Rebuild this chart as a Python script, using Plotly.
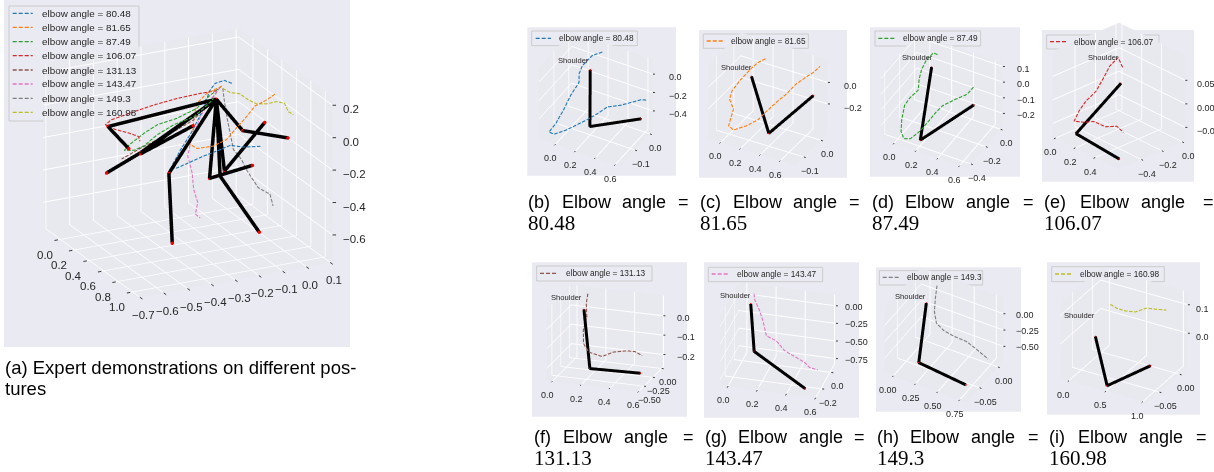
import math
import plotly.graph_objects as go

W, H = 1214, 472
COLORS = ["#1f77b4", "#ff7f0e", "#2ca02c", "#d62728", "#8c564b", "#e377c2", "#7f7f7f", "#bcbd22"]
ANGLES = ["80.48", "81.65", "87.49", "106.07", "131.13", "143.47", "149.3", "160.98"]

# ---- overview (a): arms and trajectories (x, y, z)
ov_arm_b = [(0, -.044, -.078), (.12, -.109, -.51), (.65, -.09, -.263)]
ov_arm_c = [(0, -.044, -.078), (.25, -.086, -.429), (.65, -.038, -.012)]
ov_arm_d = [(0, -.044, -.078), (.2, -.422, -.248), (.6, -.324, .028)]
ov_arm_e = [(0, -.044, -.078), (.1, -.53, -.084), (.45, -.549, -.102)]
ov_arm_f = [(0, -.044, -.078), (.15, -.41, -.263), (.6, -.688, -.166)]
ov_arm_g = [(0, -.044, -.078), (.15, -.289, -.421), (.65, -.427, -.653)]
ov_arm_h = [(0, -.044, -.078), (.2, -.089, -.475), (.8, -.107, -.622)]
ov_arm_i = [(0, -.044, -.078), (.4, -.055, -.139), (.95, -.032, -.012)]

ov_b = [(0, .021, .003), (0, -.011, .029), (0, -.049, .021), (0, -.072, -.018), (0, -.097, -.119), (0, -.146, -.249),
        (0, -.194, -.349), (0, -.239, -.459), (.2, -.269, -.376), (.2, -.214, -.355), (.4, -.219, -.252),
        (.4, -.164, -.236), (.6, -.168, -.135), (.6, -.113, -.16), (.6, -.036, -.176)]
ov_c = [(0, -.021, -.003), (0, -.083, -.031), (0, -.125, -.081), (0, -.139, -.159), (0, -.142, -.26), (0, -.16, -.321),
        (.2, -.186, -.279), (.2, -.117, -.283), (.4, -.122, -.176), (.4, -.081, -.115), (.6, -.099, .024),
        (.6, -.064, .08), (.6, -.015, .104), (.6, .024, .134)]
ov_d = [(0, -.021, -.003), (0, -.076, -.053), (0, -.125, -.112), (0, -.208, -.151), (0, -.292, -.169), (0, -.347, -.206),
        (0, -.41, -.261), (0, -.431, -.29), (.2, -.45, -.219), (.2, -.408, -.202), (.4, -.414, -.068),
        (.4, -.344, -.025), (.6, -.321, .083), (.6, -.265, .14), (.6, -.238, .173)]
ov_e = [(0, -.042, -.026), (0, -.111, -.024), (0, -.208, -.029), (0, -.306, -.043), (0, -.389, -.062), (0, -.486, -.087),
        (0, -.511, -.111), (.2, -.533, -.067), (.2, -.471, -.108), (.4, -.494, -.057), (.4, -.486, -.089)]
ov_f = [(0, -.028, -.009), (0, -.076, -.094), (0, -.139, -.18), (0, -.222, -.229), (0, -.292, -.261), (0, -.361, -.294),
        (0, -.403, -.318), (0, -.442, -.34)]
ov_g = [(0, -.028, -.009), (0, -.069, -.076), (0, -.111, -.167), (0, -.153, -.319), (0, -.164, -.397), (0, -.146, -.504),
        (.2, -.2, -.527), (.2, -.183, -.613), (.4, -.254, -.6), (.4, -.233, -.63)]
ov_h = [(0, -.017, -.018), (0, -.011, -.091), (0, 0, -.196), (.2, -.047, -.22), (.2, -.033, -.326), (.4, -.06, -.315),
        (.4, -.032, -.404), (.6, -.05, -.428), (.6, -.001, -.481), (.6, .012, -.556)]
ov_i = [(0, -.017, -.018), (.2, -.047, .029), (.2, -.006, .01), (.4, -.032, .045), (.4, .003, .011), (.6, -.015, .08),
        (.6, .026, .083), (.8, 0, .145), (.8, .014, .09), (.8, .037, .064)]

# ---- individual postures (b)-(i)
arm_b = [(.05, 0, -.14), (.15, -.069, -.598), (.62, -.039, -.393)]
arm_c = [(.05, .001, -.083), (.35, -.072, -.414), (.62, .031, -.145)]
arm_d = [(.04, -.005, -.036), (.2, -.392, -.25), (.6, -.258, -.003)]
arm_e = [(.02, 0, -.018), (.1, -.517, -.068), (.55, -.53, -.074)]
arm_f = [(.06, 0, -.006), (.17, -.28, -.25), (.6, -.6, -.178)]
arm_g = [(.06, -.007, 0), (.15, -.219, -.402), (.526, -.3, -.734)]
arm_h = [(.02, 0, -.138), (.15, -.052, -.655), (.72, -.061, -.659)]
arm_i = [(0, -.015, -.046), (.5, -.077, -.104), (1.0, -.061, -.017)]

traj_b = [(.172, 0, .098), (.072, 0, .024), (-.028, 0, -.123), (-.062, 0, -.227), (-.062, 0, -.318), (.003, -.1, -.259),
          (-.063, -.1, -.43), (-.073, -.15, -.507), (-.08, -.19, -.529), (-.03, -.19, -.535), (.028, -.15, -.541),
          (.087, -.1, -.536), (.187, -.1, -.444), (.196, -.05, -.476), (.296, -.05, -.365), (.429, -.05, -.297),
          (.563, -.05, -.209), (.562, 0, -.275), (.622, 0, -.259)]
traj_c = [(.192, 0, .124), (.116, 0, .068), (.051, 0, -.005), (-.064, 0, -.15), (.028, -.1, -.068), (.005, -.1, -.152),
          (.044, -.1, -.232), (.018, -.1, -.317), (-.005, -.1, -.402), (.044, -.1, -.426), (.176, -.1, -.349),
          (.29, -.1, -.26), (.285, -.05, -.265), (.4, -.05, -.135), (.411, 0, -.135), (.493, 0, -.031),
          (.592, 0, .062), (.674, 0, .135), (.739, 0, .208)]
traj_d = [(.091, 0, .054), (.052, 0, .055), (-.008, 0, -.001), (-.054, 0, -.074), (-.078, 0, -.144), (-.017, -.1, -.143),
          (-.03, -.2, -.144), (-.075, -.2, -.201), (-.033, -.3, -.225), (-.005, -.35, -.268), (.055, -.4, -.271),
          (.115, -.4, -.257), (.205, -.4, -.185), (.208, -.3, -.182), (.283, -.3, -.101), (.344, -.3, -.045),
          (.392, -.2, -.049), (.498, -.2, .008), (.564, -.2, .076)]
traj_e = [(.037, 0, .018), (-.007, 0, .034), (.01, -.1, .027), (.06, -.2, .02), (.077, -.3, -.001), (.027, -.35, -.022),
          (.01, -.4, -.04), (.01, -.45, -.057), (.11, -.45, -.049), (.21, -.45, -.037), (.327, -.45, -.036),
          (.443, -.45, -.023), (.51, -.45, -.029)]
traj_f = [(.087, 0, .078), (.076, 0, .026), (.08, 0, -.042), (.08, -.1, -.092), (.106, -.2, -.141), (.168, -.3, -.162),
          (.283, -.4, -.156), (.364, -.4, -.126), (.48, -.5, -.091), (.537, -.5, -.09), (.602, -.55, -.097)]
traj_g = [(.08, 0, .143), (.085, 0, .059), (.115, 0, -.072), (.142, 0, -.229), (.165, 0, -.433), (.233, 0, -.485),
          (.29, 0, -.61), (.369, 0, -.683), (.426, 0, -.737), (.46, 0, -.799), (.517, 0, -.82)]
traj_h = [(.141, 0, .189), (.122, 0, -.012), (.111, 0, -.219), (.133, 0, -.385), (.215, 0, -.461), (.327, 0, -.492),
          (.476, 0, -.505), (.588, 0, -.567), (.719, 0, -.654)]
traj_i = [(.12, 0, .057), (.209, 0, .05), (.321, 0, .049), (.454, 0, .055), (.611, 0, .08), (.745, 0, .086), (.879, 0, .093)]

OV_ARMS = [ov_arm_b, ov_arm_c, ov_arm_d, ov_arm_e, ov_arm_f, ov_arm_g, ov_arm_h, ov_arm_i]
OV_TRAJ = [ov_b, ov_c, ov_d, ov_e, ov_f, ov_g, ov_h, ov_i]
ARMS = [arm_b, arm_c, arm_d, arm_e, arm_f, arm_g, arm_h, arm_i]
TRAJ = [traj_b, traj_c, traj_d, traj_e, traj_f, traj_g, traj_h, traj_i]

# ---- layout: panel rect, box edge vectors in px, box centre, ranges, ticks
KAPPA = 0.505
PANELS = [
 dict(rect=(4, 0, 350, 347), X=(95, 69), Y=(197, -36), Hz=167, c=(188, 163), D=320,
      xr=(-.2, 1.1), yr=(-.71, .11), zr=(-.767, .253),
      xt=[0, .2, .4, .6, .8, 1], yt=[-.7, -.6, -.5, -.4, -.3, -.2, -.1, 0, .1], zt=[-.6, -.4, -.2, 0, .2],
      fx=1, fy=1, fz=1, fs=11.5, xo=(-13, 15), yo=(4, 18), zo=(8, 4)),
 dict(rect=(527.3, 27.3, 676, 175.7), X=(82, 28), Y=(33, -36), Hz=72, c=(596, 99), D=180,
      xr=(-.165, .65), yr=(-.2, .02), zr=(-.615, .16), xt=[0, .2, .4, .6], yt=[-.1, 0], zt=[-.4, -.2, 0],
      fx=1, fy=1, fz=1, fs=9, zo=(14, 3), sh=(573.3, 61), leg=(531.7, 31, 637.3, 45.7, 535.7, 551, 558.3, 38.3),
      cap=[527, 561, 621, 677], capy=(202, 223), tag="(b)"),
 dict(rect=(699, 30, 847, 177.7), X=(88, 27), Y=(33, -32), Hz=75, c=(768, 99), D=180,
      xr=(-.125, .75), yr=(-.15, .04), zr=(-.477, .215), xt=[0, .2, .4, .6], yt=[-.1, 0], zt=[-.2, 0],
      fx=1, fy=1, fz=1, fs=9, zo=(14, 4), sh=(736, 67.7), leg=(703.3, 34, 808.3, 48.3, 706.7, 722.7, 730, 41),
      cap=[699, 732, 792, 848], capy=(202, 223), tag="(c)"),
 dict(rect=(870, 27.3, 1020, 176.7), X=(87, 30), Y=(36, -42), Hz=64, c=(942, 101), D=180,
      xr=(-.12, .67), yr=(-.45, .03), zr=(-.285, .12), xt=[0, .2, .4, .6], yt=[-.4, -.2, 0], zt=[-.2, -.1, 0, .1],
      fx=1, fy=1, fz=1, fs=9, zo=(12, 2), sh=(917.3, 57.7), leg=(875, 31, 980.7, 46, 878.3, 894.3, 901.7, 38.3),
      cap=[871, 904, 965, 1022], capy=(202, 223), tag="(d)"),
 dict(rect=(1042, 30, 1194, 181.7), X=(67, 33), Y=(67, -29), Hz=86, c=(1119, 96), D=180,
      xr=(-.03, .64), yr=(-.62, .03), zr=(-.078, .103), xt=[0, .2, .4], yt=[-.4, -.2, 0], zt=[-.05, 0, .05],
      fx=1, fy=1, fz=2, fs=9, zo=(10, 4), sh=(1103.3, 57.7), leg=(1046.7, 35, 1159, 49, 1050, 1066.7, 1073.3, 41.7),
      cap=[1043, 1079, 1140, 1202], capy=(202, 223), tag="(e)"),
 dict(rect=(532, 262.3, 687, 416.7), X=(93, 11), Y=(25, -25), Hz=72, c=(605, 338), D=180,
      xr=(-.04, .6), yr=(-.65, .05), zr=(-.263, .105), xt=[0, .2, .4, .6], yt=[-.5, -.25, 0], zt=[-.2, -.1, 0],
      fx=1, fy=2, fz=1, fs=9, zo=(12, 2), sh=(566.7, 297), leg=(536.7, 266, 652, 281, 540, 556.7, 565, 273.3),
      cap=[533, 562, 623, 682], capy=(437, 458), tag="(f)"),
 dict(rect=(704, 262.3, 859, 417.7), X=(98, 13), Y=(19, -34), Hz=70, c=(778, 340), D=180,
      xr=(-.055, .61), yr=(-.31, .1), zr=(-.83, .154), xt=[0, .2, .4, .6], yt=[-.2, 0], zt=[-.75, -.5, -.25, 0],
      fx=1, fy=1, fz=2, fs=9, zo=(7, 1), sh=(735, 295), leg=(708.3, 267.3, 822.7, 281.7, 711.7, 728.3, 736, 274),
      cap=[704, 737, 798, 853], capy=(437, 458), tag="(g)"),
 dict(rect=(876, 267.3, 1021, 411.7), X=(83, 30), Y=(37, -42), Hz=64, c=(944, 335), D=180,
      xr=(-.1, .83), yr=(-.085, .015), zr=(-.72, .25), xt=[0, .25, .5, .75], yt=[-.05, 0], zt=[-.5, -.25, 0],
      fx=2, fy=2, fz=2, fs=9, zo=(11, 1), sh=(910.7, 296), leg=(879.3, 270.7, 982.7, 285, 882.7, 899.3, 905.7, 277.3),
      cap=[876, 909, 970, 1027], capy=(437, 458), tag="(h)"),
 dict(rect=(1047, 262.3, 1200, 414.7), X=(88, 25), Y=(41, -36), Hz=76, c=(1124, 335), D=180,
      xr=(-.12, 1.06), yr=(-.08, .02), zr=(-.119, .145), xt=[0, .5, 1], yt=[-.05, 0], zt=[0, .1],
      fx=1, fy=2, fz=1, fs=9, zo=(6, 4), sh=(1079, 315.7), leg=(1051.7, 266.7, 1164.3, 281.7, 1055, 1071.7, 1079, 274),
      cap=[1048, 1077, 1138, 1195], capy=(437, 458), tag="(i)"),
]
OV_LEG = dict(box=(9, 6, 139, 121), lx=(12.7, 32.7), tx=40.7, ys=[13.3, 27.3, 41.7, 55.7, 70, 84, 98.3, 112.3])

SANS = "Liberation Sans"
px = lambda v: v / W
py = lambda v: 1 - v / H

fig = go.Figure()
shapes, annos, layout = [], [], {}


def rect(x0, y0, x1, y1, fill, line=None):
    shapes.append(dict(type="rect", xref="paper", yref="paper", x0=px(x0), x1=px(x1), y0=py(y1), y1=py(y0),
                       fillcolor=fill, line=dict(color=line or fill, width=1 if line else 0), layer="below"))


def text(x, y, s, size, color="#000000", family=SANS, anchor="left"):
    annos.append(dict(xref="paper", yref="paper", x=px(x), y=py(y), text=s, showarrow=False, xanchor=anchor,
                      yanchor="middle", borderpad=0, font=dict(family=family, size=size, color=color)))


def legline(x0, x1, y, color):
    shapes.append(dict(type="line", xref="paper", yref="paper", x0=px(x0), x1=px(x1), y0=py(y), y1=py(y),
                       line=dict(color=color, width=1.3, dash="4px,2px"), layer="below"))


def tick_annos(p):
    """Tick marks and horizontal labels at the axis positions, in data coordinates."""
    out = []
    fs = p["fs"]
    font = dict(family=SANS, size=fs, color="#262626")
    Xv, Yv = p["X"], p["Y"]
    nx, ny = math.hypot(*Xv), math.hypot(*Yv)
    tl = 5 if fs > 10 else 3.5
    xdir = (-Yv[0] / ny * tl, -Yv[1] / ny * tl)
    ydir = (Xv[0] / nx * tl, Xv[1] / nx * tl)
    xo = p.get("xo", (-5, 14))
    yo = p.get("yo", (6, 14))
    zo = p.get("zo", (6, 2))
    fmt = lambda v, d: f"{v:.{d}f}".replace("-", "\u2212")

    def one(pos, d, off, label, anchor="center"):
        common = dict(x=pos[0], y=pos[1], z=pos[2])
        out.append(dict(**common, text="", showarrow=True, arrowhead=0, arrowwidth=0.9, arrowcolor="#262626",
                        ax=d[0], ay=d[1], standoff=0))
        out.append(dict(**common, text=label, showarrow=False, xanchor=anchor, xshift=off[0], yshift=-off[1], font=font))

    xr, yr, zr = p["xr"], p["yr"], p["zr"]
    for v in p["xt"]:
        one((v, yr[0], zr[0]), xdir, xo, fmt(v, p["fx"]))
    for v in p["yt"]:
        one((xr[1], v, zr[0]), ydir, yo, fmt(v, p["fy"]))
    for v in p["zt"]:
        one((xr[1], yr[1], v), (tl, 0), zo, fmt(v, p["fz"]), "left")
    return out


def scene_layout(p, name):
    Xv, Yv, Hz = p["X"], p["Y"], p["Hz"]
    se = math.sqrt((Xv[1] / Xv[0]) * (-Yv[1] / Yv[0]))
    el = math.asin(se)
    phi = math.atan(math.sqrt((Xv[1] / Xv[0]) / (-Yv[1] / Yv[0])))
    ax = Xv[0] / math.cos(phi)
    ay = Yv[0] / math.sin(phi)
    az = Hz / math.cos(el)
    D = p["D"]
    u = KAPPA * D
    R = 2.0
    eye = dict(x=R * math.sin(phi) * math.cos(el), y=-R * math.cos(phi) * math.cos(el), z=R * se)
    cx, cy = p["c"]
    domain = dict(x=[px(cx - D / 2), px(cx + D / 2)], y=[py(cy + D / 2), py(cy - D / 2)])

    def axis(rng, ticks):
        return dict(range=list(rng), tickmode="array", tickvals=ticks, title=dict(text=""),
                    showgrid=True, gridcolor="#ffffff", gridwidth=2, showbackground=True,
                    backgroundcolor="#E8E8EF", showspikes=False, zeroline=False, showline=False,
                    ticks="", showticklabels=False)

    layout[name] = dict(domain=domain, bgcolor="rgba(0,0,0,0)", aspectmode="manual",
                        aspectratio=dict(x=ax / u, y=ay / u, z=az / u),
                        camera=dict(eye=eye, center=dict(x=0, y=0, z=0), up=dict(x=0, y=0, z=1),
                                    projection=dict(type="orthographic")),
                        xaxis=axis(p["xr"], p["xt"]), yaxis=axis(p["yr"], p["yt"]),
                        zaxis=axis(p["zr"], p["zt"]), annotations=tick_annos(p))


def dashed(pts, p, on=3.6, off=1.5):
    """Break a polyline into dashes of fixed on-screen length (line style only)."""
    rx, ry, rz = p["xr"][1] - p["xr"][0], p["yr"][1] - p["yr"][0], p["zr"][1] - p["zr"][0]
    Xv, Yv, Hz = p["X"], p["Y"], p["Hz"]
    out = [pts[0]]
    drawing, left = True, on
    for a, b in zip(pts, pts[1:]):
        dx, dy, dz = (b[0] - a[0]) / rx, (b[1] - a[1]) / ry, (b[2] - a[2]) / rz
        sl = math.hypot(dx * Xv[0] + dy * Yv[0], dx * Xv[1] + dy * Yv[1] - dz * Hz)
        pos = 0.0
        while sl - pos > left:
            pos += left
            t = pos / sl
            q = (a[0] + (b[0] - a[0]) * t, a[1] + (b[1] - a[1]) * t, a[2] + (b[2] - a[2]) * t)
            if drawing:
                out.extend([q, (None, None, None)])
            else:
                out.append(q)
            drawing = not drawing
            left = on if drawing else off
        left -= sl - pos
        if drawing:
            out.append(b)
    return out


def add_curve(pts, color, scene, p):
    xs, ys, zs = zip(*dashed(pts, p))
    fig.add_trace(go.Scatter3d(x=xs, y=ys, z=zs, mode="lines", line=dict(color=color, width=2.2),
                               scene=scene, showlegend=False, hoverinfo="skip"))


def add_arm(pts, scene, lw, ms):
    xs, ys, zs = zip(*pts)
    fig.add_trace(go.Scatter3d(x=xs, y=ys, z=zs, mode="lines+markers", line=dict(color="#000000", width=lw),
                               marker=dict(color="#ff0000", size=ms), scene=scene, showlegend=False,
                               hoverinfo="skip"))


for i, p in enumerate(PANELS):
    name = "scene" if i == 0 else f"scene{i + 1}"
    rect(*p["rect"], "#EAEAF2")
    scene_layout(p, name)
    if i == 0:
        for c, tr in zip(COLORS, OV_TRAJ):
            add_curve(tr, c, name, p)
        for arm in OV_ARMS:
            add_arm(arm, name, 7, 2)
    else:
        add_curve(TRAJ[i - 1], COLORS[i - 1], name, p)
        add_arm(ARMS[i - 1], name, 6, 1)
        text(p["sh"][0], p["sh"][1], "Shoulder", 7.6, "#262626", anchor="center")
        x0, y0, x1, y1, l0, l1, tx, ty = p["leg"]
        rect(x0, y0, x1, y1, "#EAEAF2", "#CCCCCC")
        legline(l0, l1, ty, COLORS[i - 1])
        text(tx, ty, f"elbow angle = {ANGLES[i - 1]}", 8.3, "#262626")
        cx = p["cap"]
        for word, xx in zip([p["tag"], "Elbow", "angle", "="], cx):
            text(xx, p["capy"][0], word, 18)
        text(cx[0], p["capy"][1], ANGLES[i - 1], 21, family="Liberation Serif")

b = OV_LEG["box"]
rect(*b, "#EAEAF2", "#CCCCCC")
for c, a, y in zip(COLORS, ANGLES, OV_LEG["ys"]):
    legline(*OV_LEG["lx"], y, c)
    text(OV_LEG["tx"], y, f"elbow angle = {a}", 9.9, "#262626")
text(4, 367, "(a) Expert demonstrations on different pos-", 18.5)
text(4, 388, "tures", 18.5)

fig.update_layout(width=W, height=H, margin=dict(l=0, r=0, t=0, b=0), autosize=False, paper_bgcolor="#ffffff",
                  shapes=shapes, annotations=annos, showlegend=False, **layout)
fig.write_html("out.html", config=dict(displayModeBar=False), post_script="document.body.style.margin='0';")
